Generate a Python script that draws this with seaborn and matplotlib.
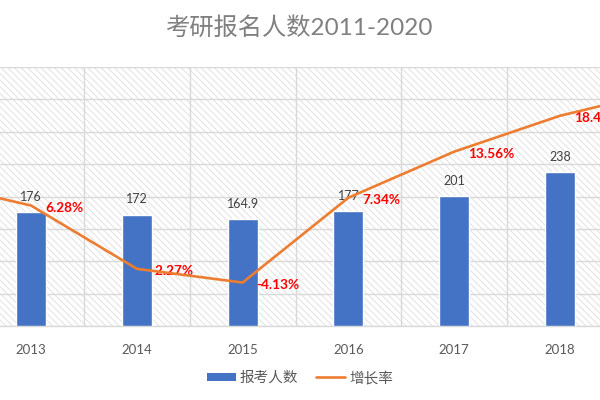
import matplotlib
matplotlib.use("Agg")
import matplotlib.pyplot as plt
import seaborn as sns
import pandas as pd
import numpy as np
from matplotlib.patches import Rectangle
from matplotlib.lines import Line2D
from matplotlib.patches import Patch

years = ["2011", "2012", "2013", "2014", "2015", "2016", "2017", "2018", "2019", "2020"]
applicants = [151.1, 165.6, 176, 172, 164.9, 177, 201, 238, 290, 341]
applicant_labels = ["151.1", "165.6", "176", "172", "164.9", "177", "201", "238", "290", "341"]
growth = [7.47, 9.60, 6.28, -2.27, -4.13, 7.34, 13.56, 18.41, 21.85, 17.59]
growth_labels = ["7.47%", "9.60%", "6.28%", "-2.27%", "-4.13%", "7.34%", "13.56%", "18.41%", "21.85%", "17.59%"]
title = "考研报名人数2011-2020"
series_names = ["报考人数", "增长率"]

sns.set_theme(style="white")
plt.rcParams['font.family'] = ['Lato', 'Noto Sans CJK SC', 'DejaVu Sans']
plt.rcParams['hatch.color'] = '#e2e2e2'
plt.rcParams['hatch.linewidth'] = 0.7

BLUE = '#4472C4'
ORANGE = '#ED7D31'
GRID = '#d9d9d9'

fig = plt.figure(figsize=(6, 4), dpi=100)
ax = fig.add_axes([0.0, 0.185, 1.0, 0.6475])

df = pd.DataFrame({"year": years, "applicants": applicants, "growth": growth})
pos = np.arange(len(years))

# hatched background
bg = Rectangle((0, 0), 1, 1, transform=ax.transAxes, facecolor='white',
               edgecolor='#e2e2e2', hatch='\\\\\\\\\\', linewidth=0, zorder=-5)
ax.add_patch(bg)

sns.barplot(data=df, x="year", y="applicants", order=years, color=BLUE,
            width=0.284, saturation=1, ax=ax, zorder=3)

ax.set_ylim(0, 400)
ax.set_yticks(np.arange(0, 401, 50))
ax.set_xlim(1.707, 7.378)
ax.set_xticks(pos)
ax.set_xticklabels(years, color='#595959', fontsize=9.5)
ax.set_xticks(pos + 0.5, minor=True)
ax.tick_params(axis='x', which='major', length=0, pad=13)
ax.tick_params(axis='x', which='minor', length=5, width=0.8, color=GRID, direction='out')
ax.tick_params(axis='y', left=False, labelleft=False)
ax.grid(axis='y', which='major', color=GRID, linewidth=1.0, zorder=0)
ax.grid(axis='x', which='minor', color=GRID, linewidth=1.0, zorder=0)
ax.set_axisbelow(True)
ax.set_xlabel("")
ax.set_ylabel("")
for s in ['top', 'left', 'right']:
    ax.spines[s].set_visible(False)
ax.spines['bottom'].set_color(GRID)
ax.spines['bottom'].set_linewidth(1.0)

for i, (v, lab) in enumerate(zip(applicants, applicant_labels)):
    ax.annotate(lab, (pos[i], v), xytext=(0, 11), textcoords='offset points',
                ha='center', va='center', fontsize=9, color='#404040')

ax2 = ax.twinx()
sns.lineplot(x=pos, y=growth, ax=ax2, color=ORANGE, linewidth=1.9, zorder=4)
ax2.set_ylim(-10, 25)
ax2.set_xlim(1.707, 7.378)
ax2.axis('off')
for i, (g, lab) in enumerate(zip(growth, growth_labels)):
    ax2.annotate(lab, (pos[i], g), xytext=(10, -1.5), textcoords='offset points',
                 ha='left', va='center', fontsize=9.8, color='#FF0000', fontweight='bold')

fig.text(0.5, 0.93, title, ha='center', va='center', fontsize=17.5, color='#808080')

handles = [Patch(facecolor=BLUE, edgecolor='none'),
           Line2D([0], [0], color=ORANGE, linewidth=1.9)]
fig.legend(handles, series_names, loc='center', bbox_to_anchor=(0.5, 0.055), ncol=2,
           frameon=False, fontsize=10.5, labelcolor='#595959', handlelength=2.0,
           handleheight=0.45, handletextpad=0.3, columnspacing=1.2)

fig.savefig("out.png", dpi=100)
